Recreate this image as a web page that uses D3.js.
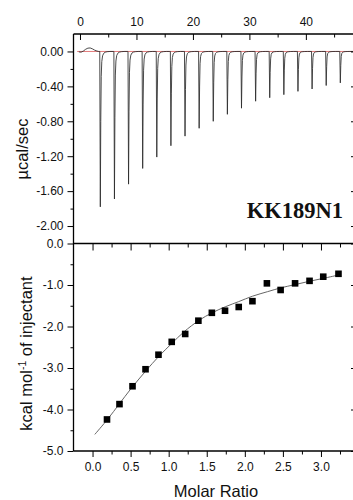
<!DOCTYPE html>
<html>
<head>
<meta charset="utf-8">
<script src="https://cdn.jsdelivr.net/npm/d3@7"></script>
<style>
  html, body { margin: 0; padding: 0; background: #fff; }
  svg { display: block; }
</style>
</head>
<body>
<svg id="chart" width="353" height="500"></svg>
<script>
// ---- Raw thermogram: injection times (min) and peak minima (µcal/sec)
const injectionTimes = [3.5, 6.0, 8.5, 11.0, 13.5, 16.0, 18.5, 21.0, 23.5, 26.0,
                        28.5, 31.0, 33.5, 36.0, 38.5, 41.0, 43.5, 46.0];
const peakHeights = [-1.78, -1.69, -1.52, -1.34, -1.21, -1.08, -0.97, -0.88, -0.80, -0.72,
                     -0.65, -0.57, -0.53, -0.495, -0.457, -0.43, -0.39, -0.36];
// shape of one injection peak: time offset (min) and fraction of the peak depth
const peakOffsets   = [-0.10, 0.00, 0.10, 0.18, 0.26, 0.36, 0.50, 0.70, 0.95, 1.30, 1.80];
const peakFractions = [0, 0, 1.0, 0.45, 0.16, 0.065, 0.028, 0.012, 0.005, 0.0015, 0];
// trace before the first injection (small pre-injection hump)
const leadTimes  = [-0.2, 0.2, 0.6, 1.0, 1.4, 1.8, 2.2, 2.6, 3.0, 3.3];
const leadValues = [-0.005, -0.008, 0.005, 0.025, 0.038, 0.040, 0.030, 0.015, 0.005, 0];

// ---- Integrated heats
const molarRatio = [0.19, 0.354, 0.525, 0.696, 0.866, 1.04, 1.217, 1.39, 1.567, 1.74,
                    1.92, 2.10, 2.29, 2.47, 2.66, 2.85, 3.03, 3.23];
const deltaH = [-4.24, -3.87, -3.44, -3.03, -2.68, -2.37, -2.18, -1.86, -1.67, -1.62,
                -1.53, -1.39, -0.96, -1.12, -0.96, -0.90, -0.80, -0.73];
// fitted binding curve
const fitX = [0.03, 0.2, 0.35, 0.5, 0.7, 0.87, 1.04, 1.2, 1.4, 1.57, 1.75, 1.92,
              2.1, 2.3, 2.47, 2.66, 2.85, 3.03, 3.23];
const fitY = [-4.60, -4.23, -3.87, -3.51, -3.07, -2.72, -2.41, -2.13, -1.85, -1.67, -1.52, -1.40,
              -1.27, -1.16, -1.07, -0.99, -0.91, -0.84, -0.76];

// ---- Tick values
const timeMajor = [0, 10, 20, 30, 40];
const timeMinor = [5, 15, 25, 35, 45];
const powerMajor = [0, -0.4, -0.8, -1.2, -1.6, -2.0];
const powerMinor = [-0.2, -0.6, -1.0, -1.4, -1.8];
const ratioMajor = [0, 0.5, 1.0, 1.5, 2.0, 2.5, 3.0];
const ratioMinor = [0.25, 0.75, 1.25, 1.75, 2.25, 2.75, 3.25];
const heatMajor = [0, -1, -2, -3, -4, -5];
const heatMinor = [-0.5, -1.5, -2.5, -3.5, -4.5];

const svg = d3.select("#chart");
const FONT = "'Liberation Sans', Arial, sans-serif";

const L = 73.5, R = 355, T = 34, M = 243.5, B = 451;

const xTime = d3.scaleLinear().domain([-1.15, 48.7]).range([L, R]);
const yPow = d3.scaleLinear().domain([-2.2, 0.2]).range([M, T]);
const xRatio = d3.scaleLinear().domain([-0.25, 3.447]).range([L, R]);
const yHeat = d3.scaleLinear().domain([-5, 0]).range([B, M]);

// ---- build the thermogram trace
const trace = leadTimes.map((t, i) => [t, leadValues[i]]);
injectionTimes.forEach((t0, k) => {
  peakOffsets.forEach((dt, j) => {
    if (dt < 0 && k === 0) return;
    trace.push([t0 + dt, peakHeights[k] * peakFractions[j]]);
  });
});
trace.push([48.7, 0]);

// baseline (red)
svg.append("line")
  .attr("x1", xTime(-0.5)).attr("x2", xTime(48.7))
  .attr("y1", yPow(0)).attr("y2", yPow(0))
  .attr("stroke", "#e27a7a").attr("stroke-width", 1);

svg.append("path")
  .datum(trace)
  .attr("fill", "none")
  .attr("stroke", "#2a2a2a")
  .attr("stroke-width", 0.85)
  .attr("stroke-linejoin", "round")
  .attr("d", d3.line().x(d => xTime(d[0])).y(d => yPow(d[1])));

// ---- fit curve and integrated heats
svg.append("path")
  .datum(fitX.map((x, i) => [x, fitY[i]]))
  .attr("fill", "none")
  .attr("stroke", "#666")
  .attr("stroke-width", 1)
  .attr("d", d3.line().curve(d3.curveCatmullRom).x(d => xRatio(d[0])).y(d => yHeat(d[1])));

const S = 6.6;
svg.append("g").selectAll("rect")
  .data(molarRatio.map((x, i) => [x, deltaH[i]]))
  .join("rect")
  .attr("x", d => xRatio(d[0]) - S / 2)
  .attr("y", d => yHeat(d[1]) - S / 2)
  .attr("width", S).attr("height", S)
  .attr("fill", "#000");

// ---- axes
function style(g, withLabels) {
  g.select(".domain").remove();
  g.selectAll(".tick line").attr("stroke", "#000").attr("stroke-width", 1);
  g.selectAll(".tick text")
    .attr("font-family", FONT).attr("font-size", 12).attr("fill", "#111");
  if (!withLabels) g.selectAll(".tick text").remove();
}

// time axis on top (ticks pointing into the plot)
svg.append("g").attr("transform", `translate(0,${T})`)
  .call(d3.axisBottom(xTime).tickValues(timeMajor).tickSize(6).tickFormat(() => ""))
  .call(g => style(g, false));
svg.append("g").attr("transform", `translate(0,${T})`)
  .call(d3.axisBottom(xTime).tickValues(timeMinor).tickSize(3.5).tickFormat(() => ""))
  .call(g => style(g, false));
svg.append("g").attr("transform", `translate(0,${T})`)
  .call(d3.axisTop(xTime).tickValues(timeMajor).tickSize(0).tickPadding(8).tickFormat(d3.format("d")))
  .call(g => style(g, true));

// power axis
const fmt2 = v => (Math.abs(v) < 1e-9 ? "0.00" : v.toFixed(2));
svg.append("g").attr("transform", `translate(${L},0)`)
  .call(d3.axisLeft(yPow).tickValues(powerMajor).tickSize(6).tickPadding(4).tickFormat(fmt2))
  .call(g => style(g, true));
svg.append("g").attr("transform", `translate(${L},0)`)
  .call(d3.axisLeft(yPow).tickValues(powerMinor).tickSize(3).tickFormat(() => ""))
  .call(g => style(g, false));
svg.append("g").attr("transform", `translate(${R},0)`)
  .call(d3.axisRight(yPow).tickValues(powerMajor).tickSize(0).tickFormat(() => ""))
  .call(g => style(g, false))
  .selectAll(".tick line").attr("x2", -4);

// heat axis
const fmt1 = v => (Math.abs(v) < 1e-9 ? "0.0" : v.toFixed(1));
svg.append("g").attr("transform", `translate(${L},0)`)
  .call(d3.axisLeft(yHeat).tickValues(heatMajor).tickSize(6).tickPadding(4).tickFormat(fmt1))
  .call(g => style(g, true));
svg.append("g").attr("transform", `translate(${L},0)`)
  .call(d3.axisLeft(yHeat).tickValues(heatMinor).tickSize(3).tickFormat(() => ""))
  .call(g => style(g, false));
svg.append("g").attr("transform", `translate(${R},0)`)
  .call(d3.axisRight(yHeat).tickValues(heatMajor).tickSize(0).tickFormat(() => ""))
  .call(g => style(g, false))
  .selectAll(".tick line").attr("x2", -4);

// molar ratio axis (bottom, outward) and the shared middle line (inward)
svg.append("g").attr("transform", `translate(0,${B})`)
  .call(d3.axisBottom(xRatio).tickValues(ratioMajor).tickSize(6).tickPadding(5).tickFormat(fmt1))
  .call(g => style(g, true));
svg.append("g").attr("transform", `translate(0,${B})`)
  .call(d3.axisBottom(xRatio).tickValues(ratioMinor).tickSize(3.5).tickFormat(() => ""))
  .call(g => style(g, false));
svg.append("g").attr("transform", `translate(0,${M})`)
  .call(d3.axisBottom(xRatio).tickValues(ratioMajor).tickSize(7).tickFormat(() => ""))
  .call(g => style(g, false));
svg.append("g").attr("transform", `translate(0,${M})`)
  .call(d3.axisBottom(xRatio).tickValues(ratioMinor).tickSize(4).tickFormat(() => ""))
  .call(g => style(g, false));

// frame lines
const frame = svg.append("g").attr("stroke", "#000").attr("stroke-width", 1.3);
frame.append("line").attr("x1", L).attr("x2", R).attr("y1", T).attr("y2", T);
frame.append("line").attr("x1", L).attr("x2", R).attr("y1", M).attr("y2", M);
frame.append("line").attr("x1", L).attr("x2", R).attr("y1", B).attr("y2", B);
frame.append("line").attr("x1", L).attr("x2", L).attr("y1", T).attr("y2", B);
frame.append("line").attr("x1", R).attr("x2", R).attr("y1", T).attr("y2", B);

// ---- titles
svg.append("text")
  .attr("transform", `translate(27.5,149) rotate(-90)`)
  .attr("text-anchor", "middle")
  .attr("font-family", FONT).attr("font-size", 16.5).attr("fill", "#111")
  .text("µcal/sec");

const yt = svg.append("text")
  .attr("transform", `translate(32,353.5) rotate(-90)`)
  .attr("text-anchor", "middle")
  .attr("font-family", FONT).attr("font-size", 16.5).attr("fill", "#111");
yt.append("tspan").text("kcal mol");
yt.append("tspan").attr("font-size", 10.5).attr("dy", -6).text("-1");
yt.append("tspan").attr("dy", 6).text(" of injectant");

svg.append("text")
  .attr("x", 216).attr("y", 497)
  .attr("text-anchor", "middle")
  .attr("font-family", FONT).attr("font-size", 16.5).attr("fill", "#111")
  .text("Molar Ratio");

svg.append("text")
  .attr("x", 343).attr("y", 218)
  .attr("text-anchor", "end")
  .attr("font-family", "'Liberation Serif', 'Times New Roman', serif")
  .attr("font-weight", "bold").attr("font-size", 22.5).attr("fill", "#111")
  .text("KK189N1");
</script>
</body>
</html>
